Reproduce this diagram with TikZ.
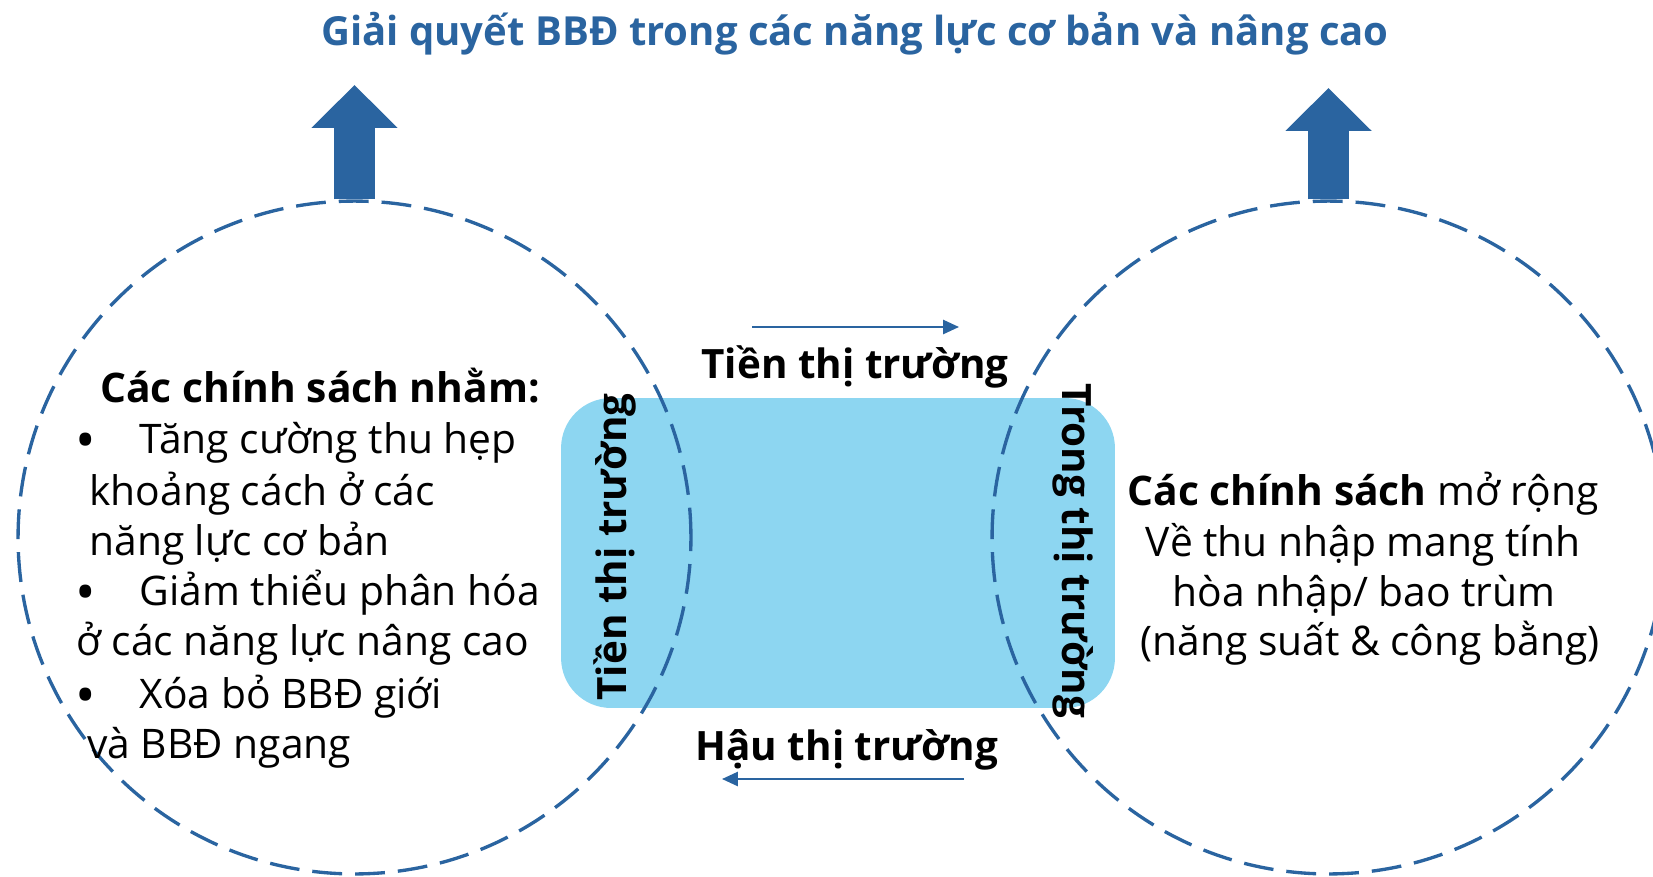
\documentclass[tikz,border=0pt]{standalone}
\usepackage{fontspec}
\setmainfont{Open Sans}
\usetikzlibrary{arrows.meta}

\definecolor{policyblue}{HTML}{2A64A0}
\definecolor{marketfill}{HTML}{8DD6F1}

\newcommand{\bigbullet}{\raisebox{-3.5pt}{\fontsize{31}{27}\selectfont •}}

\tikzset{
    bodytext/.style={font=\fontsize{23.2}{28}\selectfont, inner sep=0pt},
    boldlabel/.style={font=\fontsize{23}{28}\selectfont\bfseries, inner sep=0pt},
    policycircle/.style={circle, draw=policyblue, line width=1.9pt,
        dash pattern=on 17pt off 7.4pt, minimum size=13.46cm, inner sep=0pt},
    bigarrow/.style={policyblue, line width=23.8pt,
        -{Triangle[length=24.4pt, width=47.6pt]}},
    flowarrow/.style={policyblue, line width=1.2pt,
        -{Triangle[length=9pt, width=8pt]}}
}

\begin{document}
\begin{tikzpicture}[x=0.02cm, y=-0.02cm]
    % Canvas of the picture
    \useasboundingbox (0,0) rectangle (1653,876);

    % Market box in the middle
    \node[fill=marketfill, rounded corners=1cm, minimum width=11.08cm,
        minimum height=6.2cm, inner sep=0pt] (market) at (838,553) {};

    % The two dashed circles
    \node[policycircle] (basic) at (354.5,537.5) {};
    \node[policycircle] (inclusive) at (1328.5,537.5) {};

    % Title and upward arrows
    \node[font=\fontsize{22.8}{27}\selectfont\bfseries, text=policyblue,
        inner sep=0pt, anchor=base] (goal) at (855,45) {Giải quyết BBĐ trong các năng lực cơ bản và nâng cao};
    \coordinate (leftTip) at (354.5,85);
    \coordinate (rightTip) at (1328.5,88);
    \draw[bigarrow] (basic.north) -- (leftTip);
    \draw[bigarrow] (inclusive.north) -- (rightTip);

    % Flow along the market stages
    \coordinate (preStart) at (752,327);
    \coordinate (preEnd) at (959,327);
    \coordinate (postStart) at (964,779);
    \coordinate (postEnd) at (722,779);
    \draw[flowarrow] (preStart) -- (preEnd);
    \draw[flowarrow] (postStart) -- (postEnd);

    \node[boldlabel, anchor=base] (preLabel) at (855,378) {Tiền thị trường};
    \node[boldlabel, anchor=base] (postLabel) at (847,760) {Hậu thị trường};
    \node[boldlabel, anchor=base, rotate=90] (preSide) at (626,547) {Tiền thị trường};
    \node[boldlabel, anchor=base, rotate=-90] (inSide) at (1062,551) {Trong thị trường};

    % Left circle text
    \node[bodytext, anchor=base west] (aimHead) at (100,402) {\textbf{Các chính sách nhằm:}};
    \node[bodytext, anchor=base west] (aimOne) at (75,453) {\bigbullet\hspace{25pt}Tăng cường thu hẹp};
    \node[bodytext, anchor=base west] (aimOneA) at (89,505) {khoảng cách ở các};
    \node[bodytext, anchor=base west] (aimOneB) at (89,555) {năng lực cơ bản};
    \node[bodytext, anchor=base west] (aimTwo) at (75,605) {\bigbullet\hspace{25pt}Giảm thiểu phân hóa};
    \node[bodytext, anchor=base west] (aimTwoA) at (76,655) {ở các năng lực nâng cao};
    \node[bodytext, anchor=base west] (aimThree) at (75,708) {\bigbullet\hspace{25pt}Xóa bỏ BBĐ giới};
    \node[bodytext, anchor=base west] (aimThreeA) at (87,758) {và BBĐ ngang};

    % Right circle text
    \node[bodytext, anchor=base] (widenOne) at (1363,505) {\textbf{Các chính sách} mở rộng};
    \node[bodytext, anchor=base] (widenTwo) at (1363,556) {Về thu nhập mang tính};
    \node[bodytext, anchor=base] (widenThree) at (1364,606) {hòa nhập/ bao trùm};
    \node[bodytext, anchor=base] (widenFour) at (1370,655) {(năng suất \& công bằng)};

\end{tikzpicture}
\end{document}
